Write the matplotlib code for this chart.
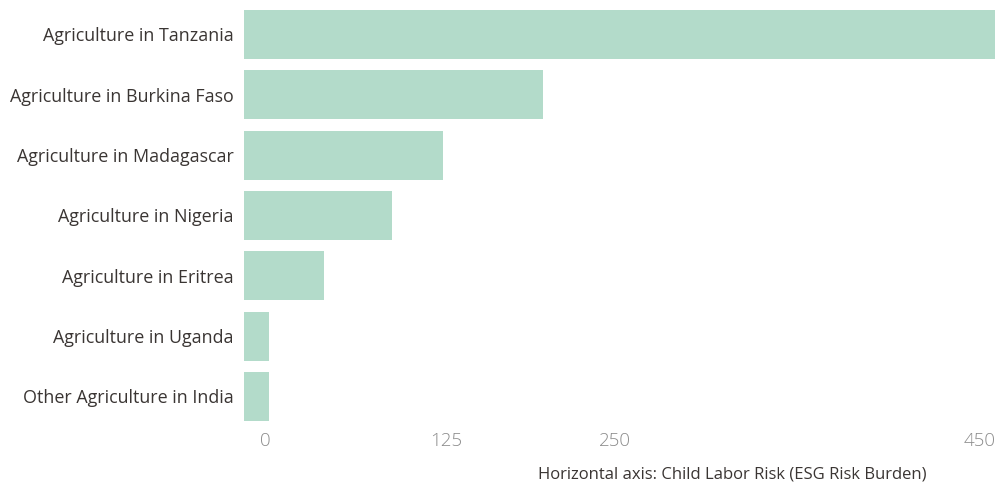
import matplotlib
matplotlib.use("Agg")
import matplotlib.pyplot as plt

# Child labor risk by sector/country
categories = [
    "Agriculture in Tanzania",
    "Agriculture in Burkina Faso",
    "Agriculture in Madagascar",
    "Agriculture in Nigeria",
    "Agriculture in Eritrea",
    "Agriculture in Uganda",
    "Other Agriculture in India",
]
values = [450, 179, 119, 89, 48, 15, 15]

tick_values = [12.6, 121, 222, 441]
tick_labels = ["0", "125", "250", "450"]
axis_title = "Horizontal axis: Child Labor Risk (ESG Risk Burden)"

BAR = "#b3dbca"
TEXT = "#3a3533"
TICK = "#8c8c8c"

plt.rcParams["font.family"] = ["Open Sans", "DejaVu Sans"]

fig = plt.figure(figsize=(9.99, 4.84), dpi=100)
ax = fig.add_axes([0.2442, 0.1186, 0.7518, 0.8725])

ypos = range(len(categories))
ax.barh(list(ypos), values, height=0.81, color=BAR, linewidth=0)
ax.set_ylim(len(categories) - 0.5, -0.5)
ax.set_xlim(0, 450)

ax.set_yticks(list(ypos))
ax.set_yticklabels(categories, fontsize=12.9, color=TEXT)
ax.tick_params(axis="y", length=0, pad=7.2)

ax.set_xticks(tick_values)
ax.set_xticklabels(tick_labels, fontsize=13.5, color=TICK, fontweight="light")
ax.tick_params(axis="x", length=0, pad=4)

for s in ax.spines.values():
    s.set_visible(False)

fig.text(0.733, 0.004, axis_title, ha="center", va="bottom",
         fontsize=12, color=TEXT)

fig.savefig("out.png", dpi=100)
